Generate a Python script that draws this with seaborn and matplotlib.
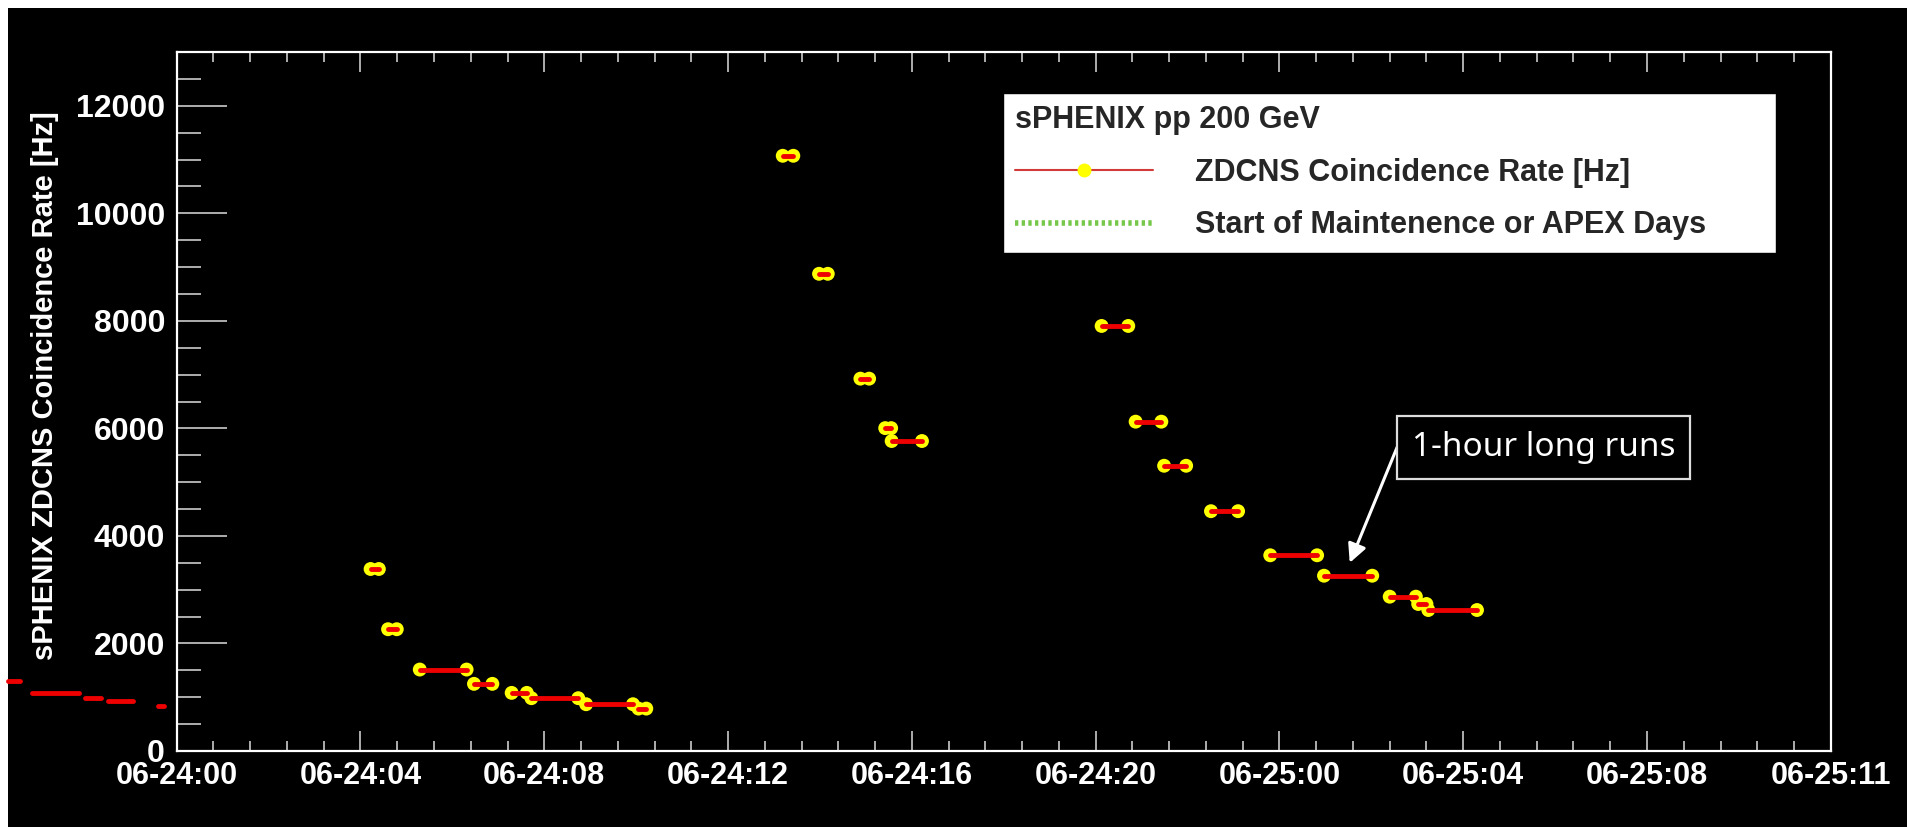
import numpy as np
import pandas as pd
import matplotlib
matplotlib.use("Agg")
import matplotlib.pyplot as plt
import seaborn as sns
from matplotlib.lines import Line2D
from matplotlib.patches import Rectangle
from matplotlib.ticker import MultipleLocator

# ---------------- data (hours since 06-24 00:00) ----------------
run_start = [-3.68, -3.14, -1.99, -1.50, -0.40,
             4.22, 4.60, 5.29, 6.47, 7.29, 7.72, 8.91, 10.05,
             13.19, 13.98, 14.88, 15.42, 15.56,
             20.13, 20.87, 21.49, 22.51, 23.80, 24.97, 26.40, 27.02, 27.24]
run_end = [-3.42, -2.12, -1.65, -0.95, -0.28,
           4.40, 4.79, 6.31, 6.87, 7.62, 8.74, 9.93, 10.22,
           13.42, 14.17, 15.07, 15.55, 16.22,
           20.71, 21.43, 21.97, 23.10, 24.82, 26.02, 26.97, 27.20, 28.30]
rate = [1305, 1087, 988, 938, 844,
        3385, 2265, 1515, 1249, 1081, 982, 870, 789,
        11070, 8875, 6925, 6005, 5765,
        7905, 6125, 5305, 4460, 3640, 3260, 2870, 2734, 2622]

x_tick_pos = [0, 4, 8, 12, 16, 20, 24, 28, 32, 36]
x_tick_labels = ["06-24:00", "06-24:04", "06-24:08", "06-24:12", "06-24:16",
                 "06-24:20", "06-25:00", "06-25:04", "06-25:08", "06-25:11"]
y_ticks = [0, 2000, 4000, 6000, 8000, 10000, 12000]

ylabel = "sPHENIX ZDCNS Coincidence Rate [Hz]"
legend_title = "sPHENIX pp 200 GeV"
legend_labels = ["ZDCNS Coincidence Rate [Hz]", "Start of Maintenence or APEX Days"]
note_text = "1-hour long runs"

# ---------------- tables ----------------
n = len(rate)
lines_df = pd.DataFrame({
    "run": np.repeat(np.arange(n), 2),
    "t": np.ravel(np.column_stack([run_start, run_end])),
    "rate": np.repeat(rate, 2),
})
pts_df = lines_df[lines_df.groupby("run")["t"].transform("min") >= 0]

# ---------------- style ----------------
sns.set_style("ticks")
plt.rcParams["font.family"] = ["Liberation Sans", "DejaVu Sans"]

fig = plt.figure(figsize=(19.08, 8.27), dpi=100, facecolor="white")
fig.add_artist(Rectangle((8 / 1908, 0), 1, 1 - 8 / 827, transform=fig.transFigure,
                         facecolor="black", edgecolor="none", zorder=-10))
ax = fig.add_axes([176.7 / 1908, 1 - 751 / 827, (1830.8 - 176.7) / 1908, (751 - 52) / 827])
ax.set_facecolor("black")

sns.scatterplot(data=pts_df, x="t", y="rate", color="#ffff00", s=100,
                edgecolor="none", zorder=2, ax=ax, legend=False)
sns.lineplot(data=lines_df, x="t", y="rate", units="run", estimator=None,
             sort=False, color="#ee0000", lw=3.5, ax=ax, clip_on=False,
             zorder=3, legend=False)

ax.set_xlim(0, 36)
ax.set_ylim(0, 13000)
ax.set_xticks(x_tick_pos)
ax.set_xticklabels(x_tick_labels)
ax.set_yticks(y_ticks)
ax.xaxis.set_minor_locator(MultipleLocator(0.8))
ax.yaxis.set_minor_locator(MultipleLocator(500))

for s in ax.spines.values():
    s.set_color("white")
    s.set_linewidth(1.6)

ax.tick_params(axis="x", which="major", direction="in", length=14.4, width=1.1,
               color="#dddddd", top=True, bottom=True, pad=7.5,
               labelsize=22, labelcolor="white")
ax.tick_params(axis="x", which="minor", direction="in", length=7.2, width=1.1,
               color="#dddddd", top=True, bottom=True)
ax.tick_params(axis="y", which="major", direction="in", length=36, width=1.1,
               color="#dddddd", left=True, right=False, pad=8.4,
               labelsize=23, labelcolor="white")
ax.tick_params(axis="y", which="minor", direction="in", length=17.6, width=1.1,
               color="#dddddd", left=True, right=False)
for lab in ax.get_xticklabels() + ax.get_yticklabels():
    lab.set_fontweight("bold")

ax.set_xlabel("")
ax.set_ylabel(ylabel, fontsize=21, fontweight="bold", color="white", labelpad=12)
ax.yaxis.label.set_y(0.522)

# ---------------- legend ----------------
handles = [
    Line2D([], [], color="#d23a3a", lw=1.5, marker="o", markersize=9,
           markerfacecolor="#ffff00", markeredgecolor="#ffff00"),
    Line2D([], [], color="#77c84a", lw=4, linestyle=(0, (0.6, 0.6))),
]
leg = ax.legend(handles, legend_labels, title=legend_title,
                loc="upper left", mode="expand",
                bbox_to_anchor=(1003 / 1908, 0.70, 773 / 1908, 1 - 93 / 827 - 0.70),
                bbox_transform=fig.transFigure, borderaxespad=0,
                prop={"weight": "bold", "size": 22},
                title_fontproperties={"weight": "bold", "size": 22},
                alignment="left", handlelength=4.5, handletextpad=1.4,
                labelspacing=0.74, borderpad=0.4, frameon=True, fancybox=False,
                facecolor="white", edgecolor="black", framealpha=1)
leg.get_frame().set_linewidth(1)

# ---------------- annotation ----------------
ax.annotate(note_text, xy=(25.53, 3500), xytext=(29.75, 5650),
            ha="center", va="center", fontsize=24, color="white",
            family=["Noto Sans", "DejaVu Sans"],
            bbox=dict(boxstyle="square,pad=0.45", facecolor="black",
                      edgecolor="#dddddd", lw=1.6),
            arrowprops=dict(arrowstyle="-|>", color="white", lw=2.2,
                            mutation_scale=28, relpos=(-0.056, 0.5),
                            patchA=None, shrinkA=0, shrinkB=0),
            zorder=5)

fig.savefig("out.png", dpi=100, facecolor="white")
